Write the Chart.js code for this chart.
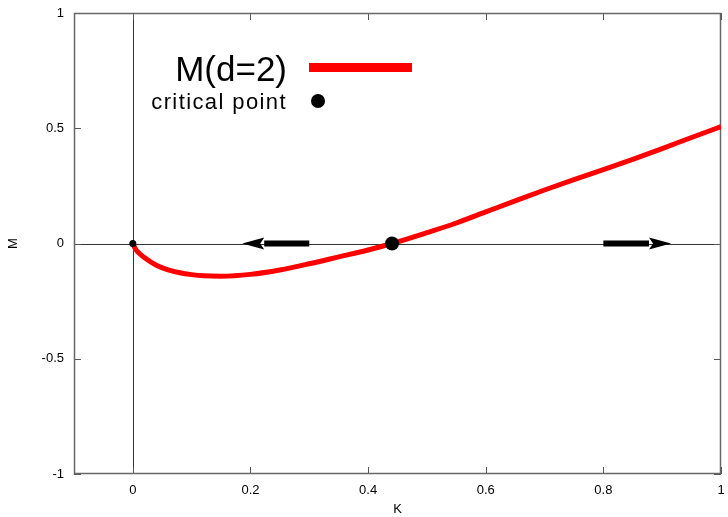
<!DOCTYPE html>
<html lang="en">
<head>
<meta charset="UTF-8">
<title>M(d=2)</title>
<script src="https://cdn.jsdelivr.net/npm/chart.js@4.4.1/dist/chart.umd.min.js"></script>
<style>
  html, body { margin: 0; padding: 0; background: #fff; }
  #wrap { width: 728px; height: 517px; position: relative; }
</style>
</head>
<body>
<div id="wrap"><canvas id="myChart" width="728" height="517"></canvas></div>
<script>
// curve M(K)
var kValues = [0, 0.005, 0.01, 0.02, 0.04, 0.06, 0.08, 0.1, 0.12, 0.15, 0.2, 0.25, 0.3, 0.35, 0.4, 0.4407,
               0.5, 0.55, 0.6, 0.65, 0.7, 0.75, 0.8, 0.85, 0.9, 0.95, 1.0];
var mValues = [0, -0.026, -0.04, -0.062, -0.094, -0.114, -0.127, -0.135, -0.14, -0.142, -0.134, -0.115, -0.088, -0.058, -0.028, 0,
               0.047, 0.089, 0.137, 0.185, 0.232, 0.277, 0.32, 0.365, 0.412, 0.46, 0.507];

var criticalK = [0.4407];
var criticalM = [0];

// flow arrows along M=0
var arrowFrom = [0.30, 0.80];
var arrowTo = [0.186, 0.915];

var xTicks = [0, 0.2, 0.4, 0.6, 0.8, 1];
var yTicks = [-1, -0.5, 0, 0.5, 1];

var fontFam = "'Liberation Sans', Arial, sans-serif";

var curveData = kValues.map(function (k, i) { return { x: k, y: mValues[i] }; });
var critData = criticalK.map(function (k, i) { return { x: k, y: criticalM[i] }; });

// axes box, zero lines, inner ticks
var framePlugin = {
    id: 'frame',
    beforeDatasetsDraw: function (chart) {
        var ctx = chart.ctx, a = chart.chartArea;
        var xs = chart.scales.x, ys = chart.scales.y;
        ctx.save();
        ctx.strokeStyle = '#333';
        ctx.lineWidth = 1;
        ctx.beginPath();
        var x0 = Math.round(xs.getPixelForValue(0)) + 0.5;
        var y0 = Math.round(ys.getPixelForValue(0)) + 0.5;
        ctx.moveTo(x0, a.top); ctx.lineTo(x0, a.bottom);
        ctx.moveTo(a.left, y0); ctx.lineTo(a.right, y0);
        ctx.stroke();

        ctx.strokeStyle = '#555';
        ctx.beginPath();
        xTicks.forEach(function (v) {
            var px = Math.round(xs.getPixelForValue(v)) + 0.5;
            ctx.moveTo(px, a.bottom); ctx.lineTo(px, a.bottom - 7);
            ctx.moveTo(px, a.top); ctx.lineTo(px, a.top + 7);
        });
        yTicks.forEach(function (v) {
            var py = Math.round(ys.getPixelForValue(v)) + 0.5;
            ctx.moveTo(a.left, py); ctx.lineTo(a.left + 7, py);
            ctx.moveTo(a.right, py); ctx.lineTo(a.right - 7, py);
        });
        ctx.stroke();
        ctx.lineWidth = 1.5;
        ctx.strokeStyle = '#666';
        ctx.strokeRect(a.left + 0.5, a.top + 0.5, a.right - a.left - 1, a.bottom - a.top - 1);
        ctx.restore();
    },
    afterDatasetsDraw: function (chart) {
        var ctx = chart.ctx;
        var xs = chart.scales.x, ys = chart.scales.y;
        ctx.save();
        ctx.fillStyle = '#000';
        for (var i = 0; i < arrowFrom.length; i++) {
            var x1 = xs.getPixelForValue(arrowFrom[i]);
            var x2 = xs.getPixelForValue(arrowTo[i]);
            var y = ys.getPixelForValue(0);
            var dir = x2 > x1 ? 1 : -1;
            var headLen = 22;
            ctx.fillRect(Math.min(x1, x2 - dir * headLen), y - 3, Math.abs(x2 - dir * headLen - x1), 6);
            ctx.beginPath();
            ctx.moveTo(x2, y);
            ctx.lineTo(x2 - dir * headLen, y - 6);
            ctx.lineTo(x2 - dir * (headLen - 4), y);
            ctx.lineTo(x2 - dir * headLen, y + 6);
            ctx.closePath();
            ctx.fill();
        }
        ctx.restore();
    },
    afterDraw: function (chart) {
        // key
        var ctx = chart.ctx;
        ctx.save();
        ctx.fillStyle = '#000';
        ctx.textAlign = 'right';
        ctx.textBaseline = 'alphabetic';
        ctx.font = '35px ' + fontFam;
        ctx.fillText('M(d=2)', 287, 81);
        ctx.font = '22px ' + fontFam;
        ctx.letterSpacing = '1.4px';
        ctx.fillText('critical point', 287, 109);
        ctx.letterSpacing = '0px';
        ctx.fillStyle = '#ff0000';
        ctx.fillRect(309, 63, 103, 9);
        ctx.fillStyle = '#000';
        ctx.beginPath();
        ctx.arc(318, 101, 7, 0, Math.PI * 2);
        ctx.fill();
        ctx.restore();
    }
};

var ctx = document.getElementById('myChart').getContext('2d');
var myChart = new Chart(ctx, {
    type: 'scatter',
    data: {
        datasets: [
            {
                label: 'critical point',
                data: critData,
                pointRadius: 7,
                pointBackgroundColor: '#000',
                pointBorderWidth: 0,
                order: 1
            },
            {
                label: 'origin',
                data: [curveData[0]],
                pointRadius: 3.5,
                pointBackgroundColor: '#000',
                pointBorderWidth: 0,
                order: 2
            },
            {
                label: 'M(d=2)',
                data: curveData,
                showLine: true,
                borderColor: '#ff0000',
                borderWidth: 5,
                pointRadius: 0,
                cubicInterpolationMode: 'monotone',
                order: 3
            }
        ]
    },
    options: {
        responsive: false,
        animation: false,
        layout: { padding: { top: 13, right: 4, left: 0, bottom: 0 } },
        plugins: { legend: { display: false }, tooltip: { enabled: false } },
        scales: {
            x: {
                type: 'linear',
                min: -0.1,
                max: 1,
                grid: { display: false, drawTicks: false },
                border: { display: false },
                afterBuildTicks: function (s) { s.ticks = xTicks.map(function (v) { return { value: v }; }); },
                afterFit: function (s) { s.height = 43; s.paddingLeft = 0; s.paddingRight = 0; },
                ticks: { color: '#000', padding: 9, maxRotation: 0, font: { family: fontFam, size: 13 },
                         callback: function (v) { return String(v); } },
                title: { display: true, text: 'K', color: '#000', font: { family: fontFam, size: 13 },
                         padding: { top: 0, bottom: 0 } }
            },
            y: {
                type: 'linear',
                min: -1,
                max: 1,
                grid: { display: false, drawTicks: false },
                border: { display: false },
                afterBuildTicks: function (s) { s.ticks = yTicks.map(function (v) { return { value: v }; }); },
                afterFit: function (s) { s.width = 74; s.paddingTop = 0; s.paddingBottom = 0; },
                ticks: { color: '#000', padding: 10, font: { family: fontFam, size: 13 },
                         callback: function (v) { return String(v); } },
                title: { display: true, text: 'M', color: '#000', font: { family: fontFam, size: 13 },
                         padding: { top: 6, bottom: 0 } }
            }
        }
    },
    plugins: [framePlugin]
});
</script>
</body>
</html>
